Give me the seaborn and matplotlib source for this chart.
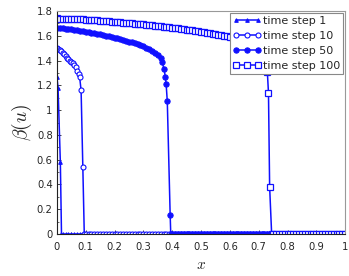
import numpy as np
import pandas as pd
import seaborn as sns
import matplotlib.pyplot as plt
from matplotlib.ticker import MultipleLocator, FuncFormatter

sns.set_style('white')
plt.rcParams['font.family'] = ['DejaVu Sans']
plt.rcParams['mathtext.fontset'] = 'cm'

# time step 1
x1 = [0.0, 0.004, 0.012, 0.016]
y1 = [1.27, 1.18, 0.58, 0.0]

# time step 10
x10 = [0.0, 0.005, 0.01, 0.015, 0.02, 0.025, 0.03, 0.035, 0.04, 0.045,
       0.05, 0.055, 0.06, 0.065, 0.07, 0.075, 0.079, 0.084, 0.09, 0.095]
y10 = [1.500, 1.495, 1.487, 1.477, 1.465, 1.451, 1.436, 1.421, 1.410, 1.399,
       1.390, 1.379, 1.364, 1.345, 1.320, 1.292, 1.265, 1.16, 0.54, 0.0]

# time step 50 (body every 0.01, then the front)
x50_body = [round(0.01 * i, 2) for i in range(37)]
y50_body = [1.665, 1.663, 1.660, 1.658, 1.655, 1.652, 1.649, 1.646, 1.642, 1.638,
            1.634, 1.630, 1.626, 1.621, 1.617, 1.612, 1.607, 1.602, 1.597, 1.592,
            1.586, 1.580, 1.574, 1.568, 1.561, 1.554, 1.547, 1.540, 1.532, 1.523,
            1.514, 1.504, 1.493, 1.480, 1.465, 1.447, 1.423]
x50_front = [0.365, 0.372, 0.376, 0.379, 0.383, 0.393, 0.395]
y50_front = [1.39, 1.33, 1.27, 1.21, 1.07, 0.15, 0.0]

# time step 100
x100_body = [round(0.01 * i, 2) for i in range(73)]
y100_body = [1.740, 1.739, 1.739, 1.738, 1.737, 1.736, 1.735, 1.734, 1.733, 1.732,
             1.730, 1.729, 1.727, 1.726, 1.724, 1.722, 1.721, 1.719, 1.717, 1.715,
             1.713, 1.711, 1.709, 1.707, 1.705, 1.703, 1.701, 1.699, 1.697, 1.694,
             1.692, 1.690, 1.687, 1.685, 1.682, 1.680, 1.677, 1.674, 1.672, 1.669,
             1.666, 1.663, 1.660, 1.657, 1.654, 1.651, 1.648, 1.645, 1.641, 1.638,
             1.634, 1.630, 1.626, 1.622, 1.618, 1.614, 1.609, 1.604, 1.599, 1.595,
             1.590, 1.586, 1.582, 1.577, 1.572, 1.566, 1.559, 1.550, 1.539, 1.524,
             1.504, 1.474, 1.425]
x100_front = [0.73, 0.734, 0.738, 0.745]
y100_front = [1.31, 1.14, 0.38, 0.0]

labels = ['time step 1', 'time step 10', 'time step 50', 'time step 100']


def with_tail(xs, ys):
    # beta is zero ahead of the front
    tail = [round(0.01 * i, 2) for i in range(101) if 0.01 * i > xs[-1] + 1e-9]
    return pd.DataFrame({'x': list(xs) + tail, 'y': list(ys) + [0.0] * len(tail)})


d1 = with_tail(x1, y1)
d10 = with_tail(x10, y10)
d50 = with_tail(x50_body + x50_front, y50_body + y50_front)
d100 = with_tail(x100_body + x100_front, y100_body + y100_front)

blue = '#1010ff'
fig, ax = plt.subplots(figsize=(3.49, 2.76), dpi=100)
fig.subplots_adjust(left=0.163, right=0.989, bottom=0.152, top=0.96)

sns.lineplot(data=d1, x='x', y='y', ax=ax, color=blue, lw=1.1, marker='^', ms=2.6,
             mec=blue, mfc=blue, label=labels[0], sort=False)
sns.lineplot(data=d10, x='x', y='y', ax=ax, color=blue, lw=1.1, marker='o', ms=3.6,
             mec=blue, mfc='white', mew=0.8, label=labels[1], sort=False)
sns.lineplot(data=d50, x='x', y='y', ax=ax, color=blue, lw=1.1, marker='o', ms=3.8,
             mec=blue, mfc=blue, label=labels[2], sort=False)
sns.lineplot(data=d100, x='x', y='y', ax=ax, color=blue, lw=1.1, marker='s', ms=3.8,
             mec=blue, mfc='white', mew=0.9, label=labels[3], sort=False)

ax.set_xlim(0, 1)
ax.set_ylim(0, 1.8)
ax.xaxis.set_major_locator(MultipleLocator(0.1))
ax.yaxis.set_major_locator(MultipleLocator(0.2))
ax.xaxis.set_minor_locator(MultipleLocator(0.05))
ax.yaxis.set_minor_locator(MultipleLocator(0.1))
fmt = FuncFormatter(lambda v, pos: '%g' % round(v, 2))
ax.xaxis.set_major_formatter(fmt)
ax.yaxis.set_major_formatter(fmt)
ax.tick_params(which='major', direction='in', length=3, width=0.6, labelsize=7.2, pad=3)
ax.tick_params(axis='x', which='major', pad=6)
ax.tick_params(which='minor', direction='in', length=1.5, width=0.5)
ax.tick_params(left=True, bottom=True, which='both')

for side in ['top', 'right']:
    ax.spines[side].set_color('#999999')
for side in ['left', 'bottom']:
    ax.spines[side].set_color('#222222')
for s in ax.spines.values():
    s.set_linewidth(0.8)

ax.set_xlabel('$x$', fontsize=11, labelpad=3)
ax.set_ylabel(r'$\beta(u)$', fontsize=14, labelpad=2)

leg = ax.legend(loc='upper right', fontsize=8, numpoints=3, handlelength=2.6,
                handletextpad=0.1, borderaxespad=0.15, borderpad=0.3,
                labelspacing=0.45, fancybox=False, framealpha=1)
leg.get_frame().set_edgecolor('#888888')
leg.get_frame().set_linewidth(0.8)

fig.savefig('out.png', dpi=100)
